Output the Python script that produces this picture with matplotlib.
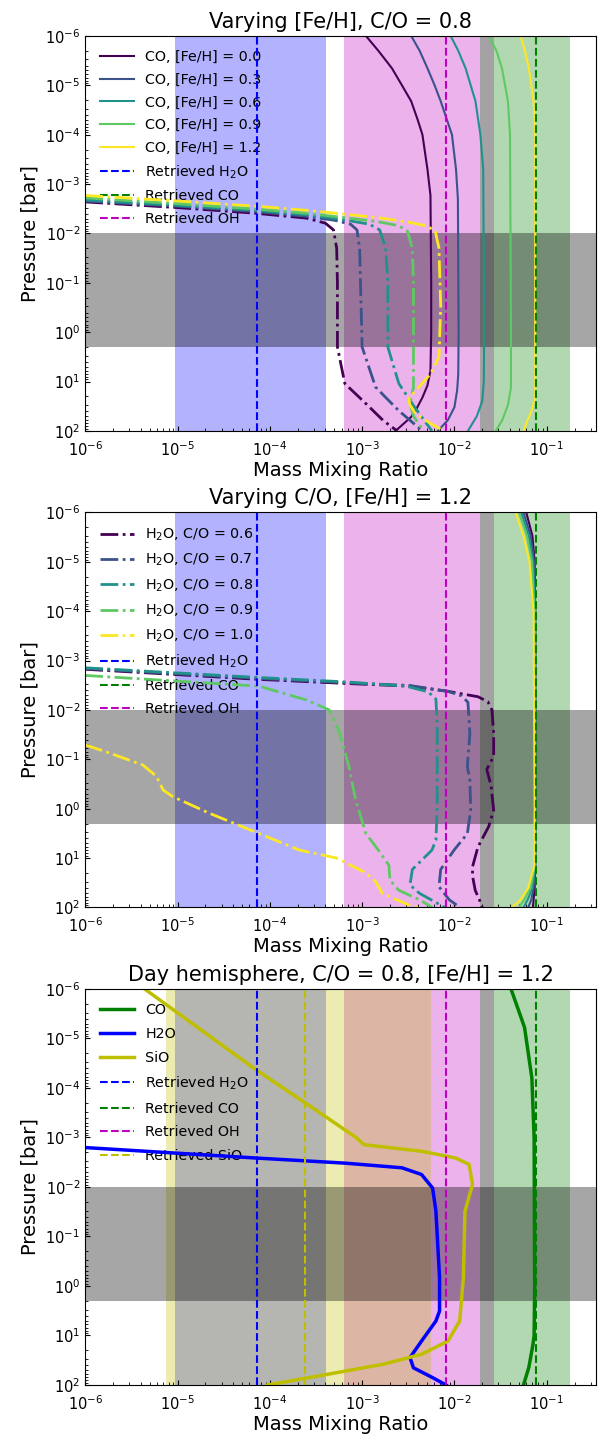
import numpy as np
import matplotlib
matplotlib.use("Agg")
import matplotlib.pyplot as plt

# ---- retrieved abundances (value, lower, upper) ----
h2o_ret = [7.3e-5, 9.5e-6, 4.1e-4]
co_ret = [7.7e-2, 1.9e-2, 0.18]
oh_ret = [8.1e-3, 6.4e-4, 2.67e-2]
sio_ret = [2.4e-4, 7.5e-6, 5.6e-3]
p_band = [1e-2, 2.0]  # grey pressure band

# ---- panel 1: varying [Fe/H], C/O = 0.8 ----
feh_labels = ["0.0", "0.3", "0.6", "0.9", "1.2"]

co_feh00_p = [1e-6, 2e-6, 4.5e-6, 1e-5, 2.1e-5, 5e-5, 1e-4, 5e-4, 1.7e-3, 0.1, 1, 6, 12, 21, 35, 52, 100]
co_feh00_x = [1.1e-3, 1.5e-3, 2.1e-3, 2.7e-3, 3.4e-3, 4.0e-3, 4.5e-3, 5.1e-3, 5.5e-3, 5.6e-3, 5.6e-3, 5.5e-3, 5.1e-3, 4.5e-3, 3.9e-3, 3.4e-3, 2.3e-3]
co_feh03_p = [1e-6, 2e-6, 4.5e-6, 1e-5, 2.1e-5, 1e-4, 5e-4, 2e-3, 1, 7, 15, 33, 60, 100]
co_feh03_x = [3.4e-3, 4.2e-3, 5.1e-3, 6.1e-3, 7.1e-3, 9.4e-3, 1.04e-2, 1.09e-2, 1.11e-2, 1.1e-2, 1.07e-2, 1.0e-2, 8.5e-3, 6.6e-3]
co_feh06_p = [1e-6, 2e-6, 4.5e-6, 2.1e-5, 1e-4, 5e-4, 1, 10, 25, 50, 100]
co_feh06_x = [9.1e-3, 1.1e-2, 1.32e-2, 1.69e-2, 1.91e-2, 2.05e-2, 2.1e-2, 2.08e-2, 2.0e-2, 1.75e-2, 1.4e-2]
co_feh09_p = [1e-6, 2e-6, 4.5e-6, 2.1e-5, 1e-4, 1, 13, 30, 60, 100]
co_feh09_x = [2.35e-2, 2.85e-2, 3.27e-2, 3.8e-2, 4.0e-2, 4.1e-2, 4.1e-2, 3.8e-2, 3.3e-2, 2.8e-2]
co_feh12_p = [1e-6, 2e-6, 4.5e-6, 2.1e-5, 1e-4, 1, 21, 40, 70, 100]
co_feh12_x = [5.2e-2, 5.8e-2, 6.4e-2, 7.2e-2, 7.5e-2, 7.5e-2, 7.5e-2, 6.8e-2, 6.0e-2, 5.6e-2]

h2o_feh00_p = [2.3e-3, 3.0e-3, 3.9e-3, 4.9e-3, 6.2e-3, 8.5e-3, 0.02, 0.1, 2.0, 11, 28, 62, 100]
h2o_feh00_x = [1e-6, 1e-5, 7e-5, 2.5e-4, 4e-4, 4.9e-4, 5.3e-4, 5.4e-4, 5.4e-4, 6.5e-4, 1.1e-3, 1.7e-3, 2.4e-3]
h2o_feh03_p = [2.2e-3, 2.8e-3, 3.6e-3, 4.5e-3, 5.4e-3, 6.5e-3, 8.5e-3, 0.02, 0.1, 2, 13, 39, 100]
h2o_feh03_x = [1e-6, 1e-5, 7e-5, 2.5e-4, 5e-4, 7.5e-4, 8.8e-4, 9.4e-4, 9.6e-4, 1.0e-3, 1.4e-3, 2.5e-3, 4.5e-3]
h2o_feh06_p = [2.1e-3, 2.7e-3, 3.4e-3, 4.2e-3, 5.2e-3, 6.5e-3, 8.5e-3, 0.02, 0.1, 2, 11, 33, 100]
h2o_feh06_x = [1e-6, 1e-5, 7e-5, 2.5e-4, 6e-4, 1.2e-3, 1.55e-3, 1.8e-3, 1.9e-3, 1.9e-3, 2.5e-3, 3.7e-3, 5.7e-3]
h2o_feh09_p = [1.9e-3, 2.5e-3, 3.2e-3, 3.9e-3, 4.7e-3, 5.8e-3, 7e-3, 9e-3, 0.02, 0.1, 13, 28, 50, 100]
h2o_feh09_x = [1e-6, 1e-5, 7e-5, 2.5e-4, 6e-4, 1.5e-3, 2.5e-3, 3.1e-3, 3.5e-3, 3.6e-3, 3.6e-3, 3.3e-3, 3.6e-3, 4.6e-3]
h2o_feh12_p = [1.7e-3, 2.2e-3, 2.8e-3, 3.4e-3, 4.0e-3, 4.8e-3, 5.8e-3, 7e-3, 9e-3, 0.02, 0.3, 3.2, 7, 22, 30, 45, 70, 100]
h2o_feh12_x = [1e-6, 1e-5, 7e-5, 2.5e-4, 6e-4, 1.5e-3, 3e-3, 5e-3, 6.2e-3, 6.8e-3, 7.1e-3, 6.8e-3, 5.5e-3, 3.2e-3, 3.3e-3, 3.8e-3, 5.5e-3, 7.7e-3]

# ---- panel 2: varying C/O, [Fe/H] = 1.2 ----
co_labels = ["0.6", "0.7", "0.8", "0.9", "1.0"]

h2o_co06_p = [1.5e-3, 2.4e-3, 2.9e-3, 3.3e-3, 4.2e-3, 5.4e-3, 6.8e-3, 1e-2, 0.03, 0.087, 0.16, 0.35, 1.07, 2.3, 5.9, 15, 23, 45, 76, 100]
h2o_co06_x = [1e-6, 7.5e-5, 6.5e-4, 3.3e-3, 8.5e-3, 1.8e-2, 2.3e-2, 2.55e-2, 2.66e-2, 2.66e-2, 2.24e-2, 2.5e-2, 2.66e-2, 2.35e-2, 1.8e-2, 1.57e-2, 1.57e-2, 1.68e-2, 1.9e-2, 2.0e-2]
h2o_co07_p = [1.45e-3, 2.3e-3, 2.8e-3, 3.2e-3, 4.2e-3, 5.2e-3, 7e-3, 0.03, 0.14, 0.26, 1.07, 3.2, 6.9, 17, 38, 70, 100]
h2o_co07_x = [1e-6, 7.5e-5, 6.5e-4, 3.3e-3, 8.5e-3, 1.2e-2, 1.4e-2, 1.47e-2, 1.38e-2, 1.47e-2, 1.5e-2, 1.38e-2, 9.9e-3, 7.1e-3, 6.8e-3, 8.8e-3, 1.15e-2]
h2o_co08_p = [1.4e-3, 2.2e-3, 2.7e-3, 3.3e-3, 4.3e-3, 6e-3, 0.02, 1, 4.3, 6.9, 17, 35, 52, 100]
h2o_co08_x = [1e-6, 7.5e-5, 6.5e-4, 3e-3, 5.2e-3, 6.3e-3, 6.5e-3, 6.5e-3, 6.3e-3, 5.7e-3, 3.5e-3, 3.3e-3, 4.2e-3, 7.9e-3]
h2o_co09_p = [2.0e-3, 3.3e-3, 6.3e-3, 0.01, 0.026, 0.14, 0.66, 3.2, 6.9, 14, 28, 45, 70, 100]
h2o_co09_x = [1e-6, 7.7e-5, 2.5e-4, 4.4e-4, 5.6e-4, 7.2e-4, 8.5e-4, 1.1e-3, 1.5e-3, 1.95e-3, 2.0e-3, 2.5e-3, 4.2e-3, 5.75e-3]
h2o_co10_p = [0.051, 0.075, 0.13, 0.22, 0.42, 0.57, 1.23, 3.2, 6.9, 10, 20, 30, 52, 89, 100]
h2o_co10_x = [1e-6, 1.85e-6, 4.2e-6, 5.9e-6, 7.0e-6, 8.9e-6, 2.2e-5, 7.7e-5, 2.1e-4, 5.3e-4, 1.1e-3, 1.4e-3, 1.66e-3, 3.2e-3, 4e-3]

co_p2 = [1e-6, 3e-6, 1e-5, 1e-4, 1, 15, 40, 70, 100]
co_co06_x = [6.0e-2, 7.0e-2, 7.4e-2, 7.5e-2, 7.5e-2, 7.5e-2, 7.4e-2, 7.2e-2, 7.1e-2]
co_co07_x = [5.6e-2, 6.7e-2, 7.3e-2, 7.5e-2, 7.5e-2, 7.5e-2, 7.2e-2, 6.8e-2, 6.3e-2]
co_co08_x = [5.3e-2, 6.4e-2, 7.1e-2, 7.5e-2, 7.5e-2, 7.5e-2, 7.0e-2, 6.2e-2, 5.6e-2]
co_co09_x = [5.0e-2, 6.1e-2, 6.9e-2, 7.4e-2, 7.5e-2, 7.4e-2, 6.7e-2, 5.7e-2, 5.0e-2]
co_co10_x = [4.6e-2, 5.6e-2, 6.5e-2, 7.2e-2, 7.4e-2, 7.3e-2, 6.3e-2, 5.2e-2, 4.2e-2]

# ---- panel 3: day hemisphere ----
day_co_p = [1e-6, 6e-6, 6.3e-5, 1e-3, 1, 10, 15, 44, 100]
day_co_x = [4.1e-2, 5.75e-2, 6.9e-2, 7.3e-2, 7.4e-2, 7.3e-2, 7.1e-2, 6.4e-2, 5.6e-2]
day_h2o_p = [1.6e-3, 2.6e-3, 3.3e-3, 4.1e-3, 5.6e-3, 0.0105, 0.031, 0.68, 3.2, 5.1, 13, 28, 45, 71, 100]
day_h2o_x = [1e-6, 7e-5, 6.5e-4, 2.7e-3, 4.4e-3, 5.8e-3, 6.3e-3, 6.9e-3, 6.9e-3, 6.3e-3, 4.4e-3, 3.3e-3, 3.6e-3, 5.8e-3, 8.1e-3]
day_sio_p = [1e-6, 4.3e-5, 2.3e-4, 1e-3, 1.4e-3, 1.9e-3, 2.6e-3, 3.5e-3, 8.9e-3, 0.031, 0.68, 5.1, 13, 24, 38, 60, 100]
day_sio_x = [4.4e-6, 7.1e-5, 2.7e-4, 8.6e-4, 1.05e-3, 4.4e-3, 1.03e-2, 1.44e-2, 1.57e-2, 1.3e-2, 1.25e-2, 1.14e-2, 8.5e-3, 4.4e-3, 1.7e-3, 4.4e-4, 9.5e-5]

colors = plt.cm.viridis(np.linspace(0, 1, 5))


def setup_axes(ax, title, with_sio=False):
    # retrieved 1-sigma ranges
    ax.axvspan(h2o_ret[1], h2o_ret[2], color='b', alpha=0.3, lw=0)
    ax.axvspan(oh_ret[1], oh_ret[2], color='m', alpha=0.3, lw=0)
    ax.axvspan(co_ret[1], co_ret[2], color='g', alpha=0.3, lw=0)
    if with_sio:
        ax.axvspan(sio_ret[1], sio_ret[2], color='y', alpha=0.3, lw=0)
    ax.axhspan(p_band[0], p_band[1], color='k', alpha=0.35, lw=0)
    ax.set_xscale('log')
    ax.set_yscale('log')
    ax.set_xlim(1e-6, 0.34)
    ax.set_ylim(1e2, 1e-6)
    ax.set_yticks([1e-6, 1e-5, 1e-4, 1e-3, 1e-2, 1e-1, 1e0, 1e1, 1e2])
    ax.set_xticks([1e-6, 1e-5, 1e-4, 1e-3, 1e-2, 1e-1])
    ax.tick_params(which='both', direction='in', labelsize=10.5)
    ax.tick_params(axis='x', which='major', pad=6.5)
    ax.set_title(title, fontsize=15)
    ax.set_xlabel("Mass Mixing Ratio", fontsize=14, labelpad=1.5)
    ax.set_ylabel("Pressure [bar]", fontsize=14)


def retrieved_lines(ax, with_sio=False):
    ax.axvline(h2o_ret[0], color='b', ls='--', lw=1.5, label="Retrieved H$_2$O")
    ax.axvline(co_ret[0], color='g', ls='--', lw=1.5, label="Retrieved CO")
    ax.axvline(oh_ret[0], color='m', ls='--', lw=1.5, label="Retrieved OH")
    if with_sio:
        ax.axvline(sio_ret[0], color='y', ls='--', lw=1.5, label="Retrieved SiO")


def add_legend(ax, spacing):
    leg = ax.legend(loc='upper left', frameon=False, fontsize=10.3, handlelength=2.4,
                    labelspacing=spacing, borderaxespad=0.6)
    leg.set_zorder(1.5)


fig = plt.figure(figsize=(6, 14.37), dpi=100)

# panel 1
ax1 = fig.add_axes([0.142, 0.7001, 0.851, 0.2749])
setup_axes(ax1, "Varying [Fe/H], C/O = 0.8")
co1 = [(co_feh00_x, co_feh00_p), (co_feh03_x, co_feh03_p), (co_feh06_x, co_feh06_p),
       (co_feh09_x, co_feh09_p), (co_feh12_x, co_feh12_p)]
h2o1 = [(h2o_feh00_x, h2o_feh00_p), (h2o_feh03_x, h2o_feh03_p), (h2o_feh06_x, h2o_feh06_p),
        (h2o_feh09_x, h2o_feh09_p), (h2o_feh12_x, h2o_feh12_p)]
for i in range(5):
    ax1.plot(co1[i][0], co1[i][1], color=colors[i], lw=1.5, label="CO, [Fe/H] = " + feh_labels[i])
    ax1.plot(h2o1[i][0], h2o1[i][1], color=colors[i], lw=2, ls='-.')
retrieved_lines(ax1)
add_legend(ax1, 0.6)

# panel 2
ax2 = fig.add_axes([0.142, 0.3685, 0.851, 0.2749])
setup_axes(ax2, "Varying C/O, [Fe/H] = 1.2")
h2o2 = [(h2o_co06_x, h2o_co06_p), (h2o_co07_x, h2o_co07_p), (h2o_co08_x, h2o_co08_p),
        (h2o_co09_x, h2o_co09_p), (h2o_co10_x, h2o_co10_p)]
co2 = [co_co06_x, co_co07_x, co_co08_x, co_co09_x, co_co10_x]
for i in range(5):
    ax2.plot(h2o2[i][0], h2o2[i][1], color=colors[i], lw=2, ls='-.', label="H$_2$O, C/O = " + co_labels[i])
    ax2.plot(co2[i], co_p2, color=colors[i], lw=1.5)
retrieved_lines(ax2)
add_legend(ax2, 0.62)

# panel 3
ax3 = fig.add_axes([0.142, 0.0362, 0.851, 0.2756])
setup_axes(ax3, "Day hemisphere, C/O = 0.8, [Fe/H] = 1.2", with_sio=True)
ax3.plot(day_co_x, day_co_p, color='g', lw=2.5, label="CO")
ax3.plot(day_h2o_x, day_h2o_p, color='b', lw=2.5, label="H2O")
ax3.plot(day_sio_x, day_sio_p, color='y', lw=2.5, label="SiO")
retrieved_lines(ax3, with_sio=True)
add_legend(ax3, 0.68)

plt.savefig("out.png", dpi=100)
